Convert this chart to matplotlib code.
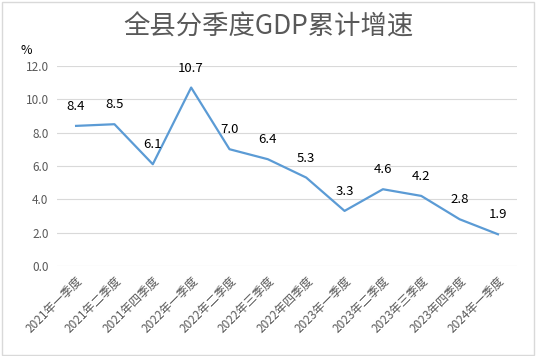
import matplotlib
matplotlib.use('Agg')
import matplotlib.pyplot as plt
import matplotlib.transforms as mtransforms
from matplotlib.patches import Rectangle

plt.rcParams['font.family'] = ['Noto Sans CJK SC', 'DejaVu Sans']

quarters = ['2021年一季度', '2021年二季度', '2021年四季度', '2022年一季度',
            '2022年二季度', '2022年三季度', '2022年四季度', '2023年一季度',
            '2023年二季度', '2023年三季度', '2023年四季度', '2024年一季度']
growth = [8.4, 8.5, 6.1, 10.7, 7.0, 6.4, 5.3, 3.3, 4.6, 4.2, 2.8, 1.9]
yticks = [0, 2, 4, 6, 8, 10, 12]

fig = plt.figure(figsize=(5.37, 3.56), dpi=100)
ax = fig.add_axes([0.106, 0.253, 0.857, 0.562])

x = list(range(len(quarters)))
ax.plot(x, growth, color='#5B9BD5', linewidth=1.6)
for xi, v in zip(x, growth):
    ax.annotate('%.1f' % v, (xi, v), xytext=(0, 14), textcoords='offset points',
                ha='center', va='center', fontsize=9.5, color='black')

ax.set_xlim(-0.5, len(quarters) - 0.5)
ax.set_ylim(0, 12)
ax.set_yticks(yticks)
ax.set_yticklabels(['%.1f' % t for t in yticks])
ax.set_xticks(x)
ax.set_xticklabels(quarters, rotation=45, ha='right', rotation_mode='anchor')
offset = mtransforms.ScaledTranslation(8 / 100, 0, fig.dpi_scale_trans)
for lab in ax.get_xticklabels():
    lab.set_transform(lab.get_transform() + offset)

ax.grid(axis='y', color='#D9D9D9', linewidth=0.8)
ax.set_axisbelow(True)
for s in ax.spines.values():
    s.set_visible(False)
ax.tick_params(axis='both', length=0, labelsize=8.5, colors='#595959')
ax.tick_params(axis='x', pad=6)
ax.tick_params(axis='y', pad=6)

fig.text(0.5, 0.925, '全县分季度GDP累计增速', ha='center', va='center',
         fontsize=19, color='#595959')
fig.text(0.038, 0.858, '%', ha='left', va='center', fontsize=9, color='black')

fig.patches.append(Rectangle((0.004, 0.004), 0.99, 0.99, transform=fig.transFigure,
                             fill=False, edgecolor='#D9D9D9', linewidth=1))

fig.savefig('out.png', dpi=100)
